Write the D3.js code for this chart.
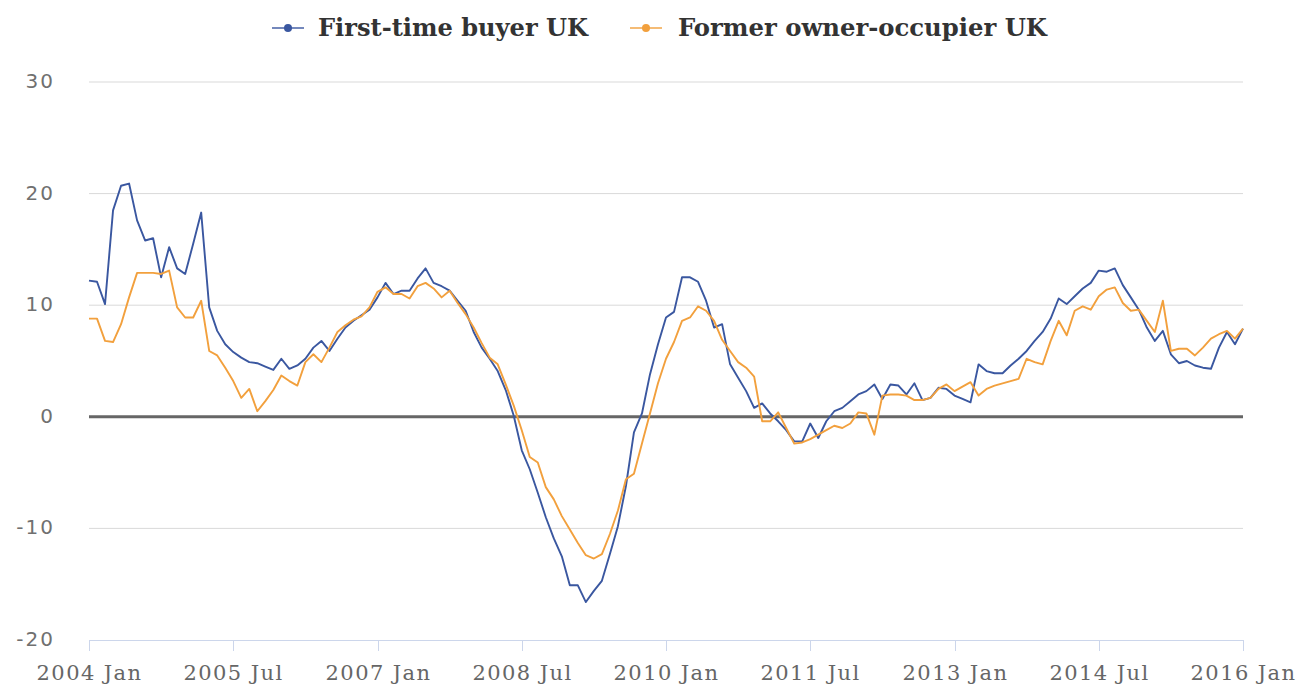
<!DOCTYPE html>
<html>
<head>
<meta charset="utf-8">
<script src="https://cdn.jsdelivr.net/npm/d3@7"></script>
<style>
  body { margin: 0; background: #fff; }
  svg { display: block; }
  .xlbl { font-family: "DejaVu Serif", serif; fill: #666; font-size: 21px; letter-spacing: 1.4px; }
  .ylbl { font-family: "DejaVu Sans", sans-serif; fill: #707070; font-size: 20px; letter-spacing: 2px; }
</style>
</head>
<body>
<svg id="chart" width="1313" height="686"></svg>
<script>
// monthly series, 2004 Jan .. 2016 Jan (145 months)
const seriesNames = ["First-time buyer UK", "Former owner-occupier UK"];

const firstTimeBuyer = [
  12.2, 12.1, 10.1, 18.5, 20.7, 20.9, 17.6, 15.8, 16.0, 12.5, 15.2, 13.3,
  12.8, 15.5, 18.3, 9.8, 7.7, 6.5, 5.8, 5.3, 4.9, 4.8, 4.5, 4.2,
  5.2, 4.3, 4.6, 5.2, 6.2, 6.8, 5.9, 7.0, 8.0, 8.6, 9.1, 9.6,
  10.7, 12.0, 11.0, 11.3, 11.3, 12.4, 13.3, 12.0, 11.7, 11.3, 10.4, 9.5,
  7.6, 6.2, 5.2, 4.1, 2.4, 0.1, -3.0, -4.7, -6.8, -9.0, -10.9, -12.5,
  -15.1, -15.1, -16.6, -15.6, -14.7, -12.3, -9.8, -6.2, -1.4, 0.3, 3.8, 6.5,
  8.9, 9.4, 12.5, 12.5, 12.1, 10.4, 8.0, 8.3, 4.7, 3.5, 2.3, 0.8,
  1.2, 0.3, -0.4, -1.2, -2.2, -2.2, -0.6, -1.9, -0.4, 0.5, 0.8, 1.4,
  2.0, 2.3, 2.9, 1.6, 2.9, 2.8, 2.0, 3.0, 1.5, 1.7, 2.6, 2.5,
  1.9, 1.6, 1.3, 4.7, 4.1, 3.9, 3.9, 4.6, 5.2, 5.9, 6.8, 7.6,
  8.8, 10.6, 10.1, 10.8, 11.5, 12.0, 13.1, 13.0, 13.3, 11.8, 10.7, 9.6,
  8.0, 6.8, 7.7, 5.6, 4.8, 5.0, 4.6, 4.4, 4.3, 6.2, 7.6, 6.5,
  7.9
];

const formerOwner = [
  8.8, 8.8, 6.8, 6.7, 8.3, 10.7, 12.9, 12.9, 12.9, 12.8, 13.1, 9.8,
  8.9, 8.9, 10.4, 5.9, 5.5, 4.4, 3.2, 1.7, 2.5, 0.5, 1.4, 2.4,
  3.7, 3.2, 2.8, 4.9, 5.6, 4.9, 6.2, 7.6, 8.2, 8.7, 9.0, 9.8,
  11.2, 11.6, 11.0, 11.0, 10.6, 11.7, 12.0, 11.5, 10.7, 11.3, 10.2, 9.2,
  8.0, 6.6, 5.3, 4.7, 2.9, 1.0, -1.2, -3.6, -4.1, -6.3, -7.4, -8.9,
  -10.1, -11.3, -12.4, -12.7, -12.3, -10.5, -8.4, -5.6, -5.1, -2.4, 0.3, 3.0,
  5.2, 6.7, 8.6, 8.9, 9.9, 9.5, 8.6, 6.9, 5.9, 4.9, 4.4, 3.6,
  -0.4, -0.4, 0.4, -1.0, -2.4, -2.3, -2.0, -1.6, -1.2, -0.8, -1.0, -0.6,
  0.4, 0.3, -1.6, 1.9, 2.0, 2.0, 1.9, 1.5, 1.5, 1.7, 2.5, 2.9,
  2.3, 2.7, 3.1, 1.9, 2.5, 2.8, 3.0, 3.2, 3.4, 5.2, 4.9, 4.7,
  6.8, 8.6, 7.3, 9.5, 9.9, 9.6, 10.8, 11.4, 11.6, 10.2, 9.5, 9.6,
  8.6, 7.6, 10.4, 5.9, 6.1, 6.1, 5.5, 6.2, 7.0, 7.4, 7.7, 7.0,
  7.9
];

const yTicks = [-20, -10, 0, 10, 20, 30];
const xTickLabels = ["2004 Jan", "2005 Jul", "2007 Jan", "2008 Jul", "2010 Jan",
                     "2011 Jul", "2013 Jan", "2014 Jul", "2016 Jan"];
const xTickMonths = [0, 18, 36, 54, 72, 90, 108, 126, 144];

const colors = ["#3a57a0", "#f2a03d"];

const svg = d3.select("#chart");
svg.append("rect").attr("width", 1313).attr("height", 686).attr("fill", "#fff");

const plotLeft = 89, plotRight = 1243, plotTop = 82, plotBottom = 640;

const x = d3.scaleLinear().domain([0, 144]).range([plotLeft, plotRight]);
const y = d3.scaleLinear().domain([-20, 30]).range([plotBottom, plotTop]);

// grid lines
svg.append("g").selectAll("line")
  .data(yTicks.filter(t => t !== -20 && t !== 0))
  .join("line")
  .attr("x1", plotLeft).attr("x2", plotRight)
  .attr("y1", d => y(d)).attr("y2", d => y(d))
  .attr("stroke", "#d9d9d9").attr("stroke-width", 1);

// y labels
svg.append("g").selectAll("text")
  .data(yTicks)
  .join("text")
  .attr("class", "ylbl")
  .attr("x", 55)
  .attr("y", d => y(d) + 6)
  .attr("text-anchor", "end")
  .text(d => d);

// x axis line + ticks
svg.append("line")
  .attr("x1", plotLeft).attr("x2", plotRight)
  .attr("y1", plotBottom + 0.5).attr("y2", plotBottom + 0.5)
  .attr("stroke", "#ccd6eb").attr("stroke-width", 1);

const xt = svg.append("g").selectAll("g")
  .data(xTickMonths)
  .join("g")
  .attr("transform", d => `translate(${Math.round(x(d)) + 0.5},0)`);
xt.append("line")
  .attr("y1", plotBottom).attr("y2", plotBottom + 11)
  .attr("stroke", "#ccd6eb");
xt.append("text")
  .attr("class", "xlbl")
  .attr("y", 680)
  .attr("text-anchor", "middle")
  .text((d, i) => xTickLabels[i]);

// zero line
svg.append("line")
  .attr("x1", plotLeft).attr("x2", plotRight)
  .attr("y1", y(0)).attr("y2", y(0))
  .attr("stroke", "#666").attr("stroke-width", 3);

// series lines
const line = d3.line()
  .x((d, i) => x(i))
  .y(d => y(d));

[firstTimeBuyer, formerOwner].forEach((s, k) => {
  svg.append("path")
    .datum(s)
    .attr("fill", "none")
    .attr("stroke", colors[k])
    .attr("stroke-width", 1.9)
    .attr("stroke-linejoin", "round")
    .attr("d", line);
});

// legend
const legendItems = [
  { sx: 272, tx: 318, w: 270 },
  { sx: 630, tx: 678, w: 369 }
];
legendItems.forEach((it, k) => {
  const g = svg.append("g");
  g.append("line")
    .attr("x1", it.sx).attr("x2", it.sx + 32)
    .attr("y1", 28).attr("y2", 28)
    .attr("stroke", colors[k]).attr("stroke-width", 2).attr("opacity", 0.7);
  g.append("circle")
    .attr("cx", it.sx + 16).attr("cy", 28).attr("r", 4)
    .attr("fill", colors[k]);
  g.append("text")
    .attr("x", it.tx).attr("y", 36)
    .attr("textLength", it.w)
    .attr("lengthAdjust", "spacingAndGlyphs")
    .style("font-family", "'DejaVu Serif', serif")
    .style("font-stretch", "condensed")
    .style("font-weight", "bold")
    .style("font-size", "24px")
    .attr("fill", "#333")
    .text(seriesNames[k]);
});
</script>
</body>
</html>
